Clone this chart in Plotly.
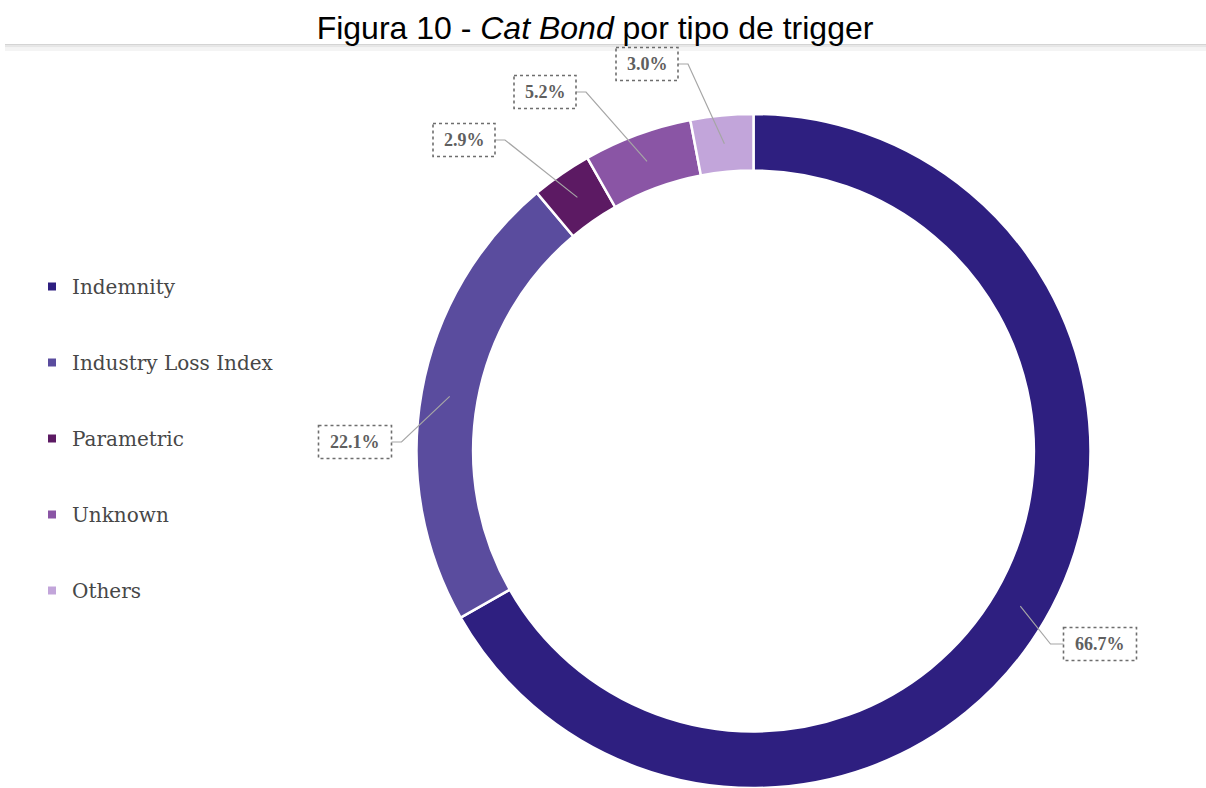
import math
import plotly.graph_objects as go

# Share of catastrophe bonds by trigger type
categories = ["Indemnity", "Industry Loss Index", "Parametric", "Unknown", "Others"]
shares = [66.7, 22.1, 2.9, 5.2, 3.0]
colors = ["#2E1F80", "#5A4C9E", "#5C1A63", "#8A55A5", "#C2A5DA"]

W, H = 1206, 788

# Donut geometry (pixels, origin top-left)
cx, cy, R = 753.5, 451.0, 337.0
hole = 0.832
r_mid = R * (1 + hole) / 2

# Callout box centres for each slice label (pixels)
label_pos = [(1100, 644), (355, 442), (464, 140), (545, 92), (647, 64)]

fig = go.Figure()

fig.add_trace(go.Pie(
    labels=categories,
    values=shares,
    sort=False,
    direction="clockwise",
    rotation=0,
    hole=hole,
    marker=dict(colors=colors, line=dict(color="white", width=2.5)),
    textinfo="none",
    hoverinfo="label+percent",
    showlegend=False,
    domain=dict(x=[(cx - R) / W, (cx + R) / W], y=[0, 2 * R / H]),
))

# Legend entries (one group per category for roomy vertical spacing)
for name, col in zip(categories, colors):
    fig.add_trace(go.Scatter(
        x=[None], y=[None], mode="markers", name=name,
        marker=dict(symbol="square", size=8, color=col),
        legendgroup=name, showlegend=True, hoverinfo="skip",
    ))

shapes = []
annotations = []

# Thin grey shadow under the title strip
for (y0, y1, c) in [(44, 45.5, "#d4d4d4"), (45.5, 47.5, "#e6e6e6"), (47.5, 51, "#f4f4f4")]:
    shapes.append(dict(type="rect", xref="x", yref="y", x0=5, x1=W, y0=y0, y1=y1,
                       line=dict(width=0), fillcolor=c, layer="below"))

total = sum(shares)
cum = 0.0
for v, (bx, by) in zip(shares, label_pos):
    frac = (cum + v / 2) / total
    cum += v
    a = 2 * math.pi * frac
    px = cx + r_mid * math.sin(a)
    py = cy - r_mid * math.cos(a)
    text = f"{v:.1f}%"
    bw = 11 * len(text) + 18
    bh = 33
    if bx > px:
        edge = bx - bw / 2
        elbow = edge - 13
    else:
        edge = bx + bw / 2
        elbow = edge + 10
    # leader line
    shapes.append(dict(type="path", xref="x", yref="y",
                       path=f"M {px:.1f},{py:.1f} L {elbow:.1f},{by} L {edge:.1f},{by}",
                       line=dict(color="#a6a6a6", width=1.2)))
    # dashed callout box
    shapes.append(dict(type="rect", xref="x", yref="y",
                       x0=bx - bw / 2, x1=bx + bw / 2, y0=by - bh / 2, y1=by + bh / 2,
                       line=dict(color="#6e6e6e", width=1.6, dash="dot"),
                       fillcolor="rgba(255,255,255,0)"))
    annotations.append(dict(x=bx, y=by, xref="x", yref="y", text=f"<b>{text}</b>",
                            showarrow=False,
                            font=dict(family="Liberation Serif", size=18, color="#5f5f5f")))

fig.update_layout(
    width=W, height=H, autosize=False,
    margin=dict(l=0, r=0, t=0, b=0, pad=0),
    paper_bgcolor="white", plot_bgcolor="rgba(0,0,0,0)",
    title=dict(text="Figura 10 - <i>Cat Bond</i> por tipo de trigger",
               x=595 / W, xanchor="center", y=1 - 28 / H, yanchor="middle",
               font=dict(family="Liberation Sans", size=32, color="#000000")),
    xaxis=dict(range=[0, W], domain=[0, 1], visible=False, fixedrange=True),
    yaxis=dict(range=[H, 0], domain=[0, 1], visible=False, fixedrange=True),
    legend=dict(x=32 / W, xanchor="left", y=1 - 267 / H, yanchor="top",
                font=dict(family="DejaVu Serif", size=20, color="#474747"),
                tracegroupgap=47, itemwidth=30, bgcolor="rgba(0,0,0,0)"),
    shapes=shapes,
    annotations=annotations,
    showlegend=True,
)

fig.write_html("out.html")
